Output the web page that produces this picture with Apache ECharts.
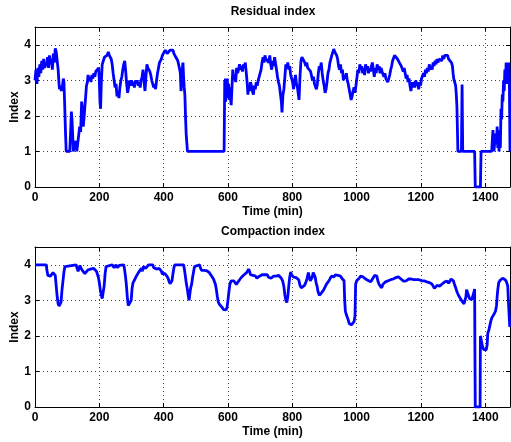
<!DOCTYPE html>
<html>
<head>
<meta charset="utf-8">
<script src="https://cdn.jsdelivr.net/npm/echarts@6/dist/echarts.min.js"></script>
<style>
	html, body { margin: 0; padding: 0; background: #fff; }
	#chart { width: 511px; height: 442px; }
</style>
</head>
<body>
<div id="chart"></div>
<script>
	// time (min) and value pairs
	var residualIndex = [
		[0,3.0],[3,3.3],[6,2.9],[9,3.35],[12,3.1],[15,3.45],[18,3.2],[21,3.55],[24,3.3],[27,3.6],
		[30,3.35],[33,3.5],[36,3.4],[39,3.65],[42,3.35],[45,3.7],[48,3.45],[51,3.6],[54,3.3],[57,3.75],
		[60,3.5],[63,3.9],[66,3.8],[69,3.55],[72,3.3],[74,3.0],[76,2.75],[79,2.85],[82,2.7],[85,2.8],
		[88,3.05],[90,2.95],[92,2.4],[95,1.5],[97,1.0],[108,1.0],[111,1.6],[113,2.12],[115,1.9],[117,1.5],
		[119,1.0],[124,1.0],[127,1.3],[130,1.0],[136,1.0],[139,1.7],[142,1.55],[145,2.4],[148,2.1],[150,1.7],
		[153,2.0],[155,2.25],[158,2.6],[160,2.85],[163,2.95],[165,3.15],[168,3.0],[171,3.1],[174,2.95],[177,3.15],
		[180,3.05],[183,3.2],[186,3.1],[189,3.25],[192,3.2],[195,3.3],[198,3.35],[200,3.0],[202,2.4],[204,2.2],
		[206,2.9],[209,3.45],[212,3.5],[216,3.65],[220,3.6],[224,3.7],[228,3.8],[231,3.7],[234,3.75],[237,3.6],
		[240,3.45],[243,3.2],[246,3.0],[249,2.8],[252,2.9],[255,2.55],[258,2.7],[261,2.5],[264,2.8],[267,3.0],
		[270,3.1],[273,3.3],[276,3.45],[279,3.55],[282,3.25],[285,2.9],[288,2.65],[291,2.8],[294,3.0],[297,2.85],
		[300,3.0],[303,2.85],[306,2.95],[309,2.8],[312,3.0],[315,2.9],[318,3.0],[321,2.85],[324,2.95],[327,2.8],
		[330,3.0],[333,3.1],[336,3.3],[339,3.0],[342,2.7],[345,3.1],[348,3.45],[351,3.35],[354,3.3],[357,3.25],
		[360,3.15],[363,3.0],[366,2.95],[369,2.8],[372,2.9],[375,2.75],[378,3.0],[381,3.2],[384,3.35],[387,3.5],
		[390,3.45],[393,3.6],[396,3.7],[399,3.75],[402,3.65],[405,3.85],[408,3.8],[411,3.75],[414,3.8],[417,3.7],
		[420,3.85],[423,3.9],[426,3.8],[429,3.85],[432,3.75],[435,3.8],[438,3.65],[441,3.7],[444,3.55],[447,3.6],
		[450,3.3],[452,3.2],[454,2.7],[456,2.9],[458,3.3],[460,3.5],[462,3.1],[464,2.8],[466,2.6],[468,2.0],
		[470,1.5],[474,1.0],[588,1.0],[590,3.0],[591,2.5],[592,3.05],[593,2.4],[594,3.0],[596,2.5],[598,3.05],
		[600,2.6],[602,2.9],[604,2.45],[606,2.8],[608,2.5],[610,2.3],[612,2.7],[615,3.3],[618,3.0],[621,3.15],
		[624,2.95],[627,3.35],[630,3.2],[633,3.3],[636,3.45],[639,3.3],[642,3.4],[645,3.25],[648,3.45],[651,3.35],
		[654,3.5],[657,3.2],[660,2.9],[662,2.6],[664,2.8],[667,2.7],[670,2.95],[673,2.85],[676,2.7],[679,2.6],
		[682,2.85],[685,2.75],[688,2.95],[691,2.85],[694,3.0],[697,3.1],[700,3.05],[703,3.3],[706,3.5],[709,3.65],
		[712,3.5],[715,3.7],[718,3.6],[721,3.55],[724,3.65],[727,3.5],[730,3.7],[733,3.45],[736,3.3],[739,3.55],
		[742,3.4],[745,3.65],[748,3.6],[751,3.3],[754,3.1],[757,2.95],[760,2.85],[763,2.8],[766,2.4],[768,2.1],
		[771,2.6],[774,2.75],[777,3.1],[780,3.45],[783,3.35],[786,3.5],[789,3.3],[792,3.4],[795,3.15],[798,3.2],
		[801,2.95],[804,2.75],[807,3.0],[810,3.15],[813,2.9],[816,2.8],[819,2.6],[821,2.45],[824,3.1],[827,3.55],
		[830,3.65],[833,3.6],[836,3.7],[839,3.5],[842,3.4],[845,3.5],[848,3.35],[851,3.3],[854,3.4],[857,3.25],
		[860,3.2],[863,3.0],[866,3.1],[869,2.9],[872,2.95],[875,2.75],[878,2.9],[881,3.2],[884,3.4],[887,3.3],
		[890,3.5],[893,3.2],[896,3.0],[899,2.85],[902,2.65],[905,2.75],[908,2.95],[911,3.2],[914,3.3],[917,3.5],
		[920,3.6],[923,3.7],[926,3.75],[929,3.88],[932,3.8],[935,3.85],[938,3.7],[941,3.6],[944,3.4],[947,3.3],
		[950,3.45],[953,3.2],[956,3.3],[959,3.0],[962,3.15],[965,3.05],[968,3.2],[971,3.0],[974,2.9],[977,2.75],
		[980,2.6],[983,2.45],[986,2.55],[989,2.7],[992,2.8],[995,2.65],[998,2.85],[1001,2.9],[1004,3.3],[1007,3.2],
		[1010,3.45],[1013,3.3],[1016,3.4],[1019,3.2],[1022,3.35],[1025,3.15],[1028,3.45],[1031,3.3],[1034,3.4],[1037,3.2],
		[1040,3.35],[1043,3.25],[1046,3.4],[1049,3.5],[1052,3.3],[1055,3.1],[1058,3.35],[1061,3.2],[1064,3.45],[1067,3.3],
		[1070,3.4],[1073,3.2],[1076,3.35],[1079,3.25],[1082,3.3],[1085,3.1],[1088,3.2],[1091,3.05],[1094,3.0],[1097,2.95],
		[1100,3.05],[1103,3.15],[1106,3.3],[1109,3.4],[1112,3.55],[1115,3.6],[1118,3.7],[1121,3.65],[1124,3.75],[1127,3.6],
		[1130,3.65],[1133,3.5],[1136,3.55],[1139,3.4],[1142,3.45],[1145,3.25],[1148,3.35],[1151,3.2],[1154,3.05],[1157,3.15],
		[1160,2.95],[1163,3.05],[1166,2.85],[1169,2.7],[1172,2.95],[1175,2.8],[1178,2.95],[1181,2.8],[1184,3.0],[1187,2.85],
		[1190,2.95],[1193,2.75],[1196,2.95],[1199,2.85],[1202,3.05],[1205,3.0],[1208,3.2],[1211,3.1],[1214,3.3],[1217,3.2],
		[1220,3.35],[1223,3.25],[1226,3.45],[1229,3.3],[1232,3.4],[1235,3.3],[1238,3.5],[1241,3.4],[1244,3.55],[1247,3.45],
		[1250,3.6],[1253,3.5],[1256,3.6],[1259,3.55],[1262,3.65],[1265,3.55],[1268,3.7],[1271,3.6],[1274,3.7],[1277,3.75],
		[1280,3.65],[1283,3.7],[1286,3.6],[1289,3.65],[1292,3.55],[1295,3.5],[1298,3.4],[1300,3.2],[1302,3.05],[1305,3.0],
		[1308,2.85],[1310,2.6],[1312,2.25],[1315,1.0],[1326,1.0],[1328,2.88],[1330,1.0],[1367,1.0],[1369,0],[1385,0],
		[1387,1.0],[1420,1.0],[1424,1.6],[1427,1.0],[1430,1.3],[1432,1.5],[1435,1.2],[1437,1.7],[1439,1.1],[1441,1.4],
		[1443,1.0],[1445,1.6],[1447,1.1],[1449,2.2],[1451,1.9],[1453,2.6],[1455,2.4],[1457,3.0],[1459,2.7],[1461,3.3],
		[1463,2.9],[1465,3.5],[1467,3.0],[1469,3.4],[1471,2.9],[1473,3.5],[1475,3.0],[1477,1.0]
	];

	var compactionIndex = [
		[0,4.0],[35,4.0],[37,3.85],[40,3.7],[44,3.65],[48,3.68],[52,3.7],[56,3.78],[60,3.75],[63,3.7],
		[66,3.4],[69,3.1],[72,2.9],[75,2.84],[78,2.85],[81,2.95],[84,3.3],[87,3.55],[90,3.8],[93,3.95],
		[96,4.0],[128,4.0],[131,3.9],[134,3.82],[137,3.9],[140,3.98],[143,3.9],[146,3.85],[149,3.82],[152,3.78],
		[155,3.75],[158,3.8],[161,3.78],[164,3.85],[167,3.82],[170,3.86],[173,3.88],[176,3.9],[179,3.92],[182,3.9],
		[185,3.88],[188,3.85],[191,3.82],[194,3.8],[197,3.65],[200,3.5],[203,3.3],[206,3.15],[209,3.05],[212,3.1],
		[215,3.4],[218,3.75],[221,3.95],[224,4.0],[240,4.0],[243,3.95],[246,3.92],[249,3.97],[252,4.0],[256,3.92],
		[259,3.88],[262,3.98],[266,4.0],[276,4.0],[278,3.9],[281,3.7],[284,3.45],[287,3.1],[290,2.85],[293,2.8],
		[296,2.82],[299,3.0],[302,3.35],[305,3.5],[308,3.55],[311,3.6],[315,3.68],[319,3.72],[323,3.8],[327,3.85],
		[331,3.9],[334,3.82],[337,3.95],[340,3.98],[344,3.9],[347,3.85],[350,3.95],[353,4.0],[366,4.0],[369,3.92],
		[372,3.87],[375,3.9],[378,3.88],[382,3.9],[386,3.9],[390,3.87],[393,3.82],[396,3.74],[400,3.72],[403,3.76],
		[406,3.74],[410,3.68],[414,3.62],[417,3.53],[420,3.47],[423,3.46],[426,3.55],[429,3.75],[432,3.92],[435,4.0],
		[462,4.0],[465,3.85],[468,3.65],[471,3.45],[474,3.3],[477,3.1],[479,3.0],[481,3.05],[484,3.35],[487,3.45],
		[490,3.65],[493,3.8],[496,3.95],[499,4.0],[512,4.0],[515,3.9],[518,3.84],[521,3.85],[524,3.82],[527,3.84],
		[531,3.8],[535,3.83],[538,3.8],[542,3.78],[545,3.74],[548,3.7],[551,3.68],[555,3.6],[558,3.55],[561,3.45],
		[564,3.3],[567,3.1],[570,2.95],[574,2.88],[578,2.85],[582,2.8],[586,2.74],[590,2.71],[594,2.73],[597,2.8],
		[600,3.0],[603,3.25],[606,3.45],[610,3.55],[614,3.6],[618,3.55],[622,3.5],[626,3.45],[630,3.5],[634,3.55],
		[638,3.58],[642,3.65],[646,3.7],[650,3.72],[654,3.75],[658,3.78],[661,3.8],[664,3.88],[667,3.82],[670,3.72],
		[674,3.68],[678,3.7],[682,3.66],[686,3.68],[690,3.62],[694,3.65],[698,3.68],[702,3.7],[706,3.72],[710,3.7],
		[714,3.72],[718,3.74],[722,3.72],[726,3.65],[730,3.6],[734,3.62],[738,3.64],[742,3.68],[746,3.7],[750,3.68],
		[754,3.66],[758,3.7],[762,3.65],[766,3.62],[770,3.55],[774,3.38],[777,3.15],[780,3.0],[783,2.94],[786,3.1],
		[789,3.4],[792,3.65],[795,3.8],[798,3.72],[801,3.7],[804,3.65],[808,3.66],[812,3.64],[816,3.6],[820,3.58],
		[824,3.42],[828,3.35],[831,3.32],[834,3.36],[838,3.42],[842,3.5],[846,3.62],[850,3.78],[853,3.65],[856,3.55],
		[859,3.5],[862,3.65],[865,3.78],[868,3.74],[871,3.66],[874,3.5],[877,3.4],[880,3.25],[884,3.14],[887,3.1],
		[890,3.2],[894,3.25],[898,3.3],[902,3.35],[906,3.45],[910,3.5],[914,3.55],[918,3.62],[922,3.68],[926,3.7],
		[930,3.66],[934,3.72],[938,3.68],[942,3.7],[946,3.74],[950,3.68],[954,3.62],[958,3.6],[961,3.55],[963,3.0],
		[965,2.7],[968,2.6],[971,2.55],[974,2.45],[977,2.35],[980,2.3],[984,2.31],[988,2.35],[992,2.4],[995,2.55],
		[997,3.45],[1000,3.55],[1004,3.6],[1008,3.62],[1012,3.68],[1016,3.72],[1020,3.66],[1024,3.64],[1028,3.6],[1032,3.6],
		[1036,3.56],[1040,3.54],[1044,3.52],[1048,3.58],[1052,3.62],[1056,3.7],[1060,3.74],[1063,3.68],[1066,3.55],[1070,3.45],
		[1074,3.4],[1078,3.35],[1082,3.45],[1086,3.5],[1090,3.52],[1094,3.54],[1098,3.55],[1102,3.55],[1106,3.58],[1110,3.6],
		[1114,3.6],[1118,3.62],[1122,3.64],[1126,3.68],[1130,3.66],[1134,3.62],[1138,3.6],[1142,3.55],[1146,3.54],[1150,3.52],
		[1154,3.55],[1158,3.56],[1162,3.6],[1166,3.62],[1170,3.6],[1174,3.6],[1178,3.58],[1182,3.57],[1186,3.58],[1190,3.6],
		[1194,3.58],[1198,3.56],[1202,3.55],[1206,3.52],[1210,3.55],[1214,3.54],[1218,3.52],[1222,3.5],[1226,3.5],[1230,3.48],
		[1234,3.46],[1238,3.4],[1242,3.34],[1246,3.38],[1250,3.42],[1254,3.38],[1258,3.4],[1262,3.44],[1266,3.46],[1270,3.5],
		[1274,3.52],[1278,3.5],[1282,3.54],[1286,3.48],[1290,3.52],[1294,3.6],[1298,3.62],[1301,3.55],[1304,3.46],[1307,3.38],
		[1310,3.3],[1314,3.2],[1318,3.12],[1322,3.08],[1326,3.0],[1330,2.95],[1334,2.9],[1338,2.87],[1340,3.1],[1342,3.3],
		[1345,3.35],[1348,3.3],[1351,3.05],[1354,3.0],[1358,3.02],[1362,3.05],[1364,3.2],[1367,3.32],[1368,1.5],[1369,0],
		[1384,0],[1385,2.0],[1388,1.95],[1391,1.72],[1395,1.62],[1399,1.58],[1403,1.6],[1406,1.75],[1408,2.08],[1411,2.15],
		[1414,2.2],[1417,2.4],[1420,2.5],[1424,2.55],[1428,2.62],[1432,2.7],[1435,2.85],[1437,3.1],[1439,3.3],[1442,3.5],
		[1446,3.56],[1450,3.6],[1454,3.62],[1458,3.6],[1462,3.58],[1466,3.52],[1470,3.4],[1473,2.8],[1476,2.3],[1477,2.25]
	];

	var titles = ['Residual index', 'Compaction index'];
	var xName = 'Time (min)';
	var yName = 'Index';
	var xMax = 1477;
	var yMax = 4.5;

	var font = 'Liberation Sans, Arial, Helvetica, sans-serif';
	var gridTops = [27, 247];

	function plain(v) {
		return String(v);
	}

	function bottomX(idx) {
		return {
			type: 'value', gridIndex: idx, min: 0, max: xMax, interval: 200,
			name: xName, nameLocation: 'middle', nameGap: 19, nameMoveOverlap: false,
			nameTextStyle: { color: '#000', fontSize: 12, fontWeight: 'bold', fontFamily: font },
			axisLine: { show: true, onZero: false, lineStyle: { color: '#000', width: 1 } },
			axisTick: { show: true, inside: true, length: 4, lineStyle: { color: '#000' } },
			axisLabel: { color: '#000', fontSize: 12, fontWeight: 'bold', fontFamily: font, margin: 5, showMaxLabel: false, formatter: plain },
			splitLine: { show: true, lineStyle: { color: '#444', type: [1, 3], width: 1 } }
		};
	}
	function topX(idx) {
		return {
			type: 'value', gridIndex: idx, position: 'top', min: 0, max: xMax, interval: 200,
			axisLine: { show: true, onZero: false, lineStyle: { color: '#000' } },
			axisTick: { show: true, inside: true, length: 4, lineStyle: { color: '#000' } },
			axisLabel: { show: false }, splitLine: { show: false }
		};
	}
	function leftY(idx) {
		return {
			type: 'value', gridIndex: idx, min: 0, max: yMax, interval: 1,
			name: yName, nameLocation: 'middle', nameGap: 14, nameMoveOverlap: false,
			nameTextStyle: { color: '#000', fontSize: 12, fontWeight: 'bold', fontFamily: font },
			axisLine: { show: true, onZero: false, lineStyle: { color: '#000' } },
			axisTick: { show: true, inside: true, length: 4, lineStyle: { color: '#000' } },
			axisLabel: { color: '#000', fontSize: 12, fontWeight: 'bold', fontFamily: font, margin: 4, showMaxLabel: false, formatter: plain },
			splitLine: { show: true, lineStyle: { color: '#444', type: [1, 3], width: 1 } }
		};
	}
	function rightY(idx) {
		return {
			type: 'value', gridIndex: idx, position: 'right', min: 0, max: yMax, interval: 1,
			axisLine: { show: true, onZero: false, lineStyle: { color: '#000' } },
			axisTick: { show: true, inside: true, length: 4, lineStyle: { color: '#000' } },
			axisLabel: { show: false }, splitLine: { show: false }
		};
	}

	var chart = echarts.init(document.getElementById('chart'));
	var option = {
		animation: false,
		backgroundColor: '#fff',
		title: titles.map(function (t, i) {
			return {
				text: t, left: 273, top: gridTops[i] - 21, textAlign: 'center', padding: 0,
				textStyle: { color: '#000', fontSize: 12, fontWeight: 'bold', fontFamily: font }
			};
		}),
		grid: gridTops.map(function (t) {
			return { left: 35, right: 1, top: t, height: 160, containLabel: false, outerBoundsMode: 'none' };
		}),
		xAxis: [bottomX(0), topX(0), bottomX(1), topX(1)],
		yAxis: [leftY(0), rightY(0), leftY(1), rightY(1)],
		series: [
			{
				type: 'line', xAxisIndex: 0, yAxisIndex: 0, data: residualIndex,
				showSymbol: false, lineStyle: { color: '#0000ff', width: 2.8 }
			},
			{
				type: 'line', xAxisIndex: 2, yAxisIndex: 2, data: compactionIndex,
				showSymbol: false, lineStyle: { color: '#0000ff', width: 2.8 }
			}
		]
	};
	chart.setOption(option);
</script>
</body>
</html>
